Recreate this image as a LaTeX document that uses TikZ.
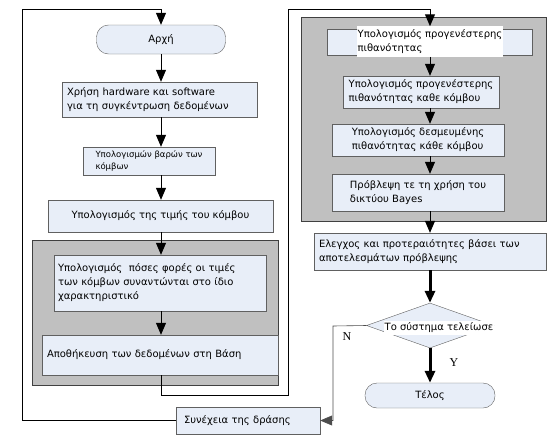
\documentclass[tikz,border=0pt]{standalone}
\usepackage{xcolor}
\usepackage{fontspec}
\setmainfont{DejaVu Sans}
\newfontfamily\ynfont{Liberation Serif}
\usepackage{tikz}
\usetikzlibrary{shapes,arrows,arrows.meta,positioning,fit,calc}

\definecolor{boxfill}{RGB}{232,238,248}
\definecolor{groupfill}{RGB}{192,192,192}
\definecolor{boxline}{RGB}{96,96,96}

\tikzset{
    startstop/.style={rectangle, draw=boxline, fill=boxfill, rounded corners=12pt, inner sep=0pt},
    process/.style={rectangle, draw=boxline, fill=boxfill, align=left, inner xsep=5pt, inner ysep=2pt},
    group/.style={rectangle, draw=black!75, fill=groupfill, inner sep=0pt},
    decision/.style={diamond, draw=boxline, fill=boxfill, inner sep=0pt},
    flow/.style={draw, line width=1pt, -{Triangle[width=10pt,length=12pt]}},
    thickflow/.style={flow, line width=3pt}
}

\begin{document}
\begin{tikzpicture}[x=1pt, y=-1pt, font=\fontsize{10}{14}\selectfont]
    \useasboundingbox (0,0) rectangle (554,442);
    \coordinate (leftaxis) at (161,0);
    \coordinate (rightaxis) at (430,0);

    % grey groups
    \node (grpleft) [group, minimum width=246pt, minimum height=145pt] at (155,312.5) {};
    \node (grpright) [group, minimum width=245pt, minimum height=204pt] at (423.5,119) {};

    % left column
    \node (start) [startstop, minimum width=129pt, minimum height=29pt] at (161,39.5) {Αρχή};
    \node (data) [process, text width=185pt, minimum height=35pt] at (159.5,99.5)
        {Χρήση hardware και software\\για τη συγκέντρωση δεδομένων};
    \node (weights) [process, minimum width=132pt, minimum height=28pt, font=\fontsize{8.5}{12}\selectfont] at (149,161)
        {Υπολογισμών βαρών των\\κόμβων};
    \node (value) [process, minimum width=225pt, minimum height=32pt] at (160.5,216)
        {Υπολογισμός της τιμής του κόμβου};
    \node (count) [process, inner xsep=4pt, text width=204pt, minimum height=56pt] at (160,283)
        {Υπολογισμός~ πόσες φορές οι τιμές\\των κόμβων συναντώνται στο ίδιο\\χαρακτηριστικό};
    \node (store) [process, text width=226pt, minimum height=40pt] at (160,355)
        {Αποθήκευση των δεδομένων στη Βάση};
    \node (cont) [process, inner xsep=8pt, text width=128pt, minimum height=27pt] at (248,420.5)
        {Συνέχεια της δράσης};

    % right column
    \node (prior) [process, minimum width=205pt, minimum height=26pt] at (429.5,42) {};
    \node (priortext) [rectangle, fill=white, align=left, inner xsep=1pt, inner ysep=3pt] at (430,41.5)
        {Υπολογισμός προγενέστερης\\πιθανότητας};
    \node (priornode) [process, minimum width=156pt, minimum height=32pt, inner xsep=3pt] at (421,92)
        {Υπολογισμός προγενέστερης\\πιθανότητας καθε κόμβου};
    \node (conditional) [process, minimum width=172pt, minimum height=32pt] at (418,140)
        {Υπολογισμός δεσμευμένης\\πιθανότητας κάθε κόμβου};
    \node (predict) [process, minimum width=172pt, minimum height=37pt] at (418,192.5)
        {Πρόβλεψη τε τη χρήση του\\δικτύου Bayes};
    \node (check) [process, text width=222pt, minimum height=37pt] at (430,251.5)
        {Ελεγχος και προτεραιότητες βάσει των\\αποτελεσμάτων πρόβλεψης};
    \node (test) [decision, minimum width=127pt, minimum height=45pt] at (430,325.5) {};
    \node (testtext) [rectangle, fill=white, inner xsep=1pt, inner ysep=2pt] at (439,328) {Το σύστημα τελείωσε};
    \node (finish) [startstop, minimum width=130pt, minimum height=25pt] at (430,395.5) {Τέλος};

    \node (nolabel) [font=\ynfont\fontsize{12}{14}\selectfont] at (347,337) {N};
    \node (yeslabel) [font=\ynfont\fontsize{12}{14}\selectfont] at (454,363) {Y};

    % loops
    \coordinate (loopcorner) at (22,9);
    \coordinate (midbottom) at (288,395);
    \coordinate (midtop) at (288,9);
    \coordinate (nocorner) at (333,326);

    \draw [flow] (cont.west) -| (loopcorner) -| (start.north);
    \draw [flow] (store.south -| leftaxis) |- (midbottom) -- (midtop) -| (priortext.north);
    \draw [flow, line width=0.6pt, draw=black!70] (test.west) -- (nocorner) |- (cont.east);

    % left flow
    \draw [flow] (start.south) -- (data.north -| leftaxis);
    \draw [flow] (data.south -| leftaxis) -- (weights.north -| leftaxis);
    \draw [flow] (weights.south -| leftaxis) -- (value.north -| leftaxis);
    \draw [flow] (value.south -| leftaxis) -- (count.north -| leftaxis);
    \draw [flow] (count.south -| leftaxis) -- (store.north -| leftaxis);

    % right flow
    \draw [flow] (priortext.south -| rightaxis) -- (priornode.north -| rightaxis);
    \draw [flow] (priornode.south -| rightaxis) -- (conditional.north -| rightaxis);
    \draw [flow] (conditional.south -| rightaxis) -- (predict.north -| rightaxis);
    \draw [flow] (predict.south -| rightaxis) -- (check.north -| rightaxis);
    \draw [thickflow] (check.south -| rightaxis) -- (test.north);
    \draw [thickflow] (test.south) -- (finish.north);
\end{tikzpicture}
\end{document}
